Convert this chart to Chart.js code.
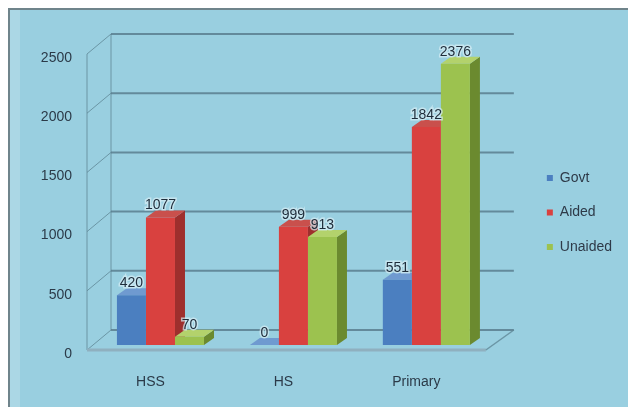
<!DOCTYPE html>
<html><head><meta charset="utf-8">
<script src="https://cdn.jsdelivr.net/npm/chart.js@4/dist/chart.umd.min.js"></script>
<style>html,body{margin:0;padding:0;background:#fff;}canvas{display:block;}</style>
</head><body>
<canvas id="c" width="628" height="407"></canvas>
<script>
const categories = ['HSS', 'HS', 'Primary'];
const seriesNames = ['Govt', 'Aided', 'Unaided'];
const govtValues = [420, 0, 551];
const aidedValues = [1077, 999, 1842];
const unaidedValues = [70, 913, 2376];
const yTickValues = [0, 500, 1000, 1500, 2000, 2500];

const FRONT = ['#4b7fc0', '#d9413f', '#9cc24f'];
const SIDE = ['#34598a', '#9e2f2d', '#6b8a2f'];
const TOP = ['#6f9ad0', '#c9504c', '#b3d26c'];
const BAR_DX = 10, BAR_DY = 7;
const FX = -7, FY = 5, BX = 17, BY = -15;
const FONT = 'Liberation Sans';

const bgPlugin = {
  id: 'bg',
  beforeDraw(chart) {
    const ctx = chart.ctx;
    ctx.save();
    ctx.fillStyle = '#ffffff';
    ctx.fillRect(0, 0, chart.width, chart.height);
    ctx.fillStyle = '#99cfe0';
    ctx.fillRect(8, 8, chart.width - 8, chart.height - 8);
    ctx.fillStyle = '#6f848b';
    ctx.fillRect(8, 8, chart.width - 8, 2);
    ctx.fillRect(8, 8, 2, chart.height - 8);
    ctx.fillStyle = 'rgba(255,255,255,0.18)';
    ctx.fillRect(10, 10, 10, chart.height - 10);
    ctx.restore();
  }
};

const wallPlugin = {
  id: 'walls',
  beforeDatasetsDraw(chart) {
    const ctx = chart.ctx;
    const ys = chart.scales.y;
    const {left, right} = chart.chartArea;
    const y0 = ys.getPixelForValue(0);
    const yTop = ys.getPixelForValue(yTickValues[yTickValues.length - 1]);
    ctx.save();
    ctx.strokeStyle = 'rgba(95,135,150,0.8)';
    ctx.lineWidth = 1;
    yTickValues.forEach(v => {
      const y = ys.getPixelForValue(v);
      ctx.beginPath();
      ctx.moveTo(left + FX, y + FY);
      ctx.lineTo(left + BX, y + BY);
      ctx.stroke();
    });
    ctx.beginPath();
    ctx.moveTo(left + FX, yTop + FY); ctx.lineTo(left + FX, y0 + FY);
    ctx.moveTo(left + BX, yTop + BY); ctx.lineTo(left + BX, y0 + BY);
    ctx.stroke();
    ctx.strokeStyle = 'rgba(85,120,138,0.8)';
    ctx.lineWidth = 2;
    yTickValues.forEach(v => {
      const y = ys.getPixelForValue(v);
      ctx.beginPath();
      ctx.moveTo(left + BX, y + BY);
      ctx.lineTo(right + BX + 4, y + BY);
      ctx.stroke();
    });
    ctx.strokeStyle = '#8fb0bf';
    ctx.lineWidth = 3;
    ctx.beginPath();
    ctx.moveTo(left + FX, y0 + FY);
    ctx.lineTo(right + FX, y0 + FY);
    ctx.stroke();
    ctx.lineWidth = 1.5;
    ctx.strokeStyle = 'rgba(95,135,150,0.8)';
    ctx.beginPath();
    ctx.moveTo(right + FX, y0 + FY);
    ctx.lineTo(right + BX + 4, y0 + BY);
    ctx.stroke();
    const items = [];
    chart.data.datasets.forEach((ds, di) => {
      chart.getDatasetMeta(di).data.forEach(el => items.push({el, di}));
    });
    items.sort((a, b) => a.el.x - b.el.x);
    items.forEach(({el, di}) => {
      const l = el.x - el.width / 2, r = el.x + el.width / 2;
      const t = el.y, b = el.base;
      ctx.fillStyle = SIDE[di];
      ctx.beginPath();
      ctx.moveTo(r, t); ctx.lineTo(r + BAR_DX, t - BAR_DY);
      ctx.lineTo(r + BAR_DX, b - BAR_DY); ctx.lineTo(r, b);
      ctx.closePath(); ctx.fill();
      ctx.fillStyle = TOP[di];
      ctx.beginPath();
      ctx.moveTo(l, t); ctx.lineTo(l + BAR_DX, t - BAR_DY);
      ctx.lineTo(r + BAR_DX, t - BAR_DY); ctx.lineTo(r, t);
      ctx.closePath(); ctx.fill();
    });
    ctx.restore();
  }
};

const labelPlugin = {
  id: 'valueLabels',
  afterDatasetsDraw(chart) {
    const ctx = chart.ctx;
    ctx.save();
    ctx.font = '14px "' + FONT + '"';
    ctx.textAlign = 'center';
    ctx.textBaseline = 'middle';
    chart.data.datasets.forEach((ds, di) => {
      chart.getDatasetMeta(di).data.forEach((el, i) => {
        const txt = String(ds.data[i]);
        const x = el.x, y = el.y - 12;
        ctx.lineWidth = 3;
        ctx.strokeStyle = 'rgba(215,238,245,0.7)';
        ctx.strokeText(txt, x, y);
        ctx.fillStyle = '#1e2c3a';
        ctx.fillText(txt, x, y);
      });
    });
    ctx.restore();
  }
};

new Chart(document.getElementById('c'), {
  type: 'bar',
  data: {
    labels: categories,
    datasets: [
      {label: seriesNames[0], data: govtValues, backgroundColor: FRONT[0], borderWidth: 0},
      {label: seriesNames[1], data: aidedValues, backgroundColor: FRONT[1], borderWidth: 0},
      {label: seriesNames[2], data: unaidedValues, backgroundColor: FRONT[2], borderWidth: 0}
    ]
  },
  options: {
    responsive: false,
    animation: false,
    devicePixelRatio: 1,
    layout: {padding: {left: 10, top: 49, right: 6, bottom: 17}},
    datasets: {bar: {barPercentage: 1, categoryPercentage: 0.655}},
    plugins: {
      tooltip: {enabled: false},
      legend: {
        position: 'right',
        align: 'start',
        maxWidth: 110,
        title: {display: true, text: ' ', padding: {top: 0, bottom: 89.5}, font: {size: 10}},
        labels: {
          boxWidth: 6, boxHeight: 6, padding: 20.5,
          color: '#2e3a48',
          font: {size: 14, family: FONT}
        }
      }
    },
    scales: {
      x: {
        grid: {display: false, drawTicks: false},
        border: {display: false},
        ticks: {color: '#2b3a48', font: {size: 14, family: FONT}, padding: 29, labelOffset: -10},
        afterFit(s) { s.height = 45; }
      },
      y: {
        min: 0, max: 2500,
        afterBuildTicks(s) { s.ticks = yTickValues.map(v => ({value: v})); },
        grid: {display: false, drawTicks: false},
        border: {display: false},
        ticks: {
          color: '#2b3a48', font: {size: 14, family: FONT}, padding: 22, labelOffset: 9,
          callback: v => String(v)
        },
        afterFit(s) { s.width = 84; }
      },
      spacer: {
        type: 'linear', position: 'right', display: true,
        grid: {display: false, drawTicks: false},
        border: {display: false},
        ticks: {display: false},
        afterFit(s) { s.width = 33.5; }
      }
    }
  },
  plugins: [bgPlugin, wallPlugin, labelPlugin]
});
</script>
</body></html>
